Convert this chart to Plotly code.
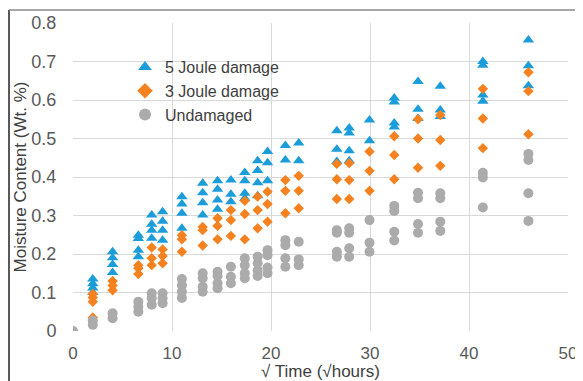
import plotly.graph_objects as go

# sqrt(time) sampling points
sqrt_time = [0, 2, 4, 6.6, 7.95, 9.05, 11, 13.1, 14.6, 15.95, 17.35, 18.65,
             19.65, 21.45, 22.8, 26.65, 27.9, 29.95, 32.45, 34.85, 37.1, 41.4, 46.0]

joule5 = [[0], [0.135, 0.123, 0.112, 0.10], [0.206, 0.19, 0.173, 0.152],
          [0.249, 0.24, 0.21, 0.193], [0.301, 0.277, 0.262, 0.241],
          [0.31, 0.285, 0.262, 0.236], [0.349, 0.33, 0.306, 0.267],
          [0.384, 0.359, 0.333, 0.301], [0.39, 0.368, 0.34, 0.316],
          [0.392, 0.355, 0.336], [0.412, 0.39, 0.358, 0.345],
          [0.442, 0.417, 0.385, 0.351], [0.466, 0.437, 0.39],
          [0.482, 0.444], [0.488, 0.442], [0.52, 0.472, 0.44],
          [0.527, 0.514, 0.468, 0.442], [0.548, 0.494],
          [0.605, 0.595, 0.54, 0.53], [0.648, 0.576, 0.552],
          [0.636, 0.574, 0.557], [0.70, 0.69, 0.613, 0.597],
          [0.756, 0.689, 0.637]]

joule3 = [[0], [0.096, 0.087, 0.076, 0.035], [0.13, 0.118, 0.106],
          [0.171, 0.163, 0.148], [0.217, 0.189, 0.171], [0.212, 0.195, 0.176],
          [0.249, 0.238, 0.206], [0.27, 0.262, 0.222], [0.293, 0.273, 0.238],
          [0.314, 0.288, 0.247], [0.338, 0.304, 0.238], [0.349, 0.314, 0.267],
          [0.362, 0.33, 0.284], [0.392, 0.364, 0.306], [0.403, 0.364, 0.319],
          [0.434, 0.394, 0.343], [0.436, 0.392, 0.343], [0.466, 0.416, 0.364],
          [0.506, 0.457, 0.394], [0.55, 0.5, 0.424], [0.561, 0.496, 0.429],
          [0.629, 0.552, 0.475], [0.672, 0.623, 0.511]]

undamaged = [[0], [0.027, 0.016], [0.046, 0.033], [0.076, 0.063, 0.05],
             [0.098, 0.085, 0.068], [0.098, 0.085, 0.072],
             [0.135, 0.119, 0.102, 0.086], [0.15, 0.137, 0.115, 0.102],
             [0.154, 0.143, 0.124, 0.111], [0.167, 0.141, 0.124],
             [0.189, 0.171, 0.15, 0.137], [0.193, 0.176, 0.158, 0.143],
             [0.21, 0.197, 0.165, 0.15], [0.236, 0.223, 0.189, 0.167],
             [0.232, 0.186, 0.171], [0.262, 0.255, 0.206, 0.193],
             [0.267, 0.255, 0.215, 0.193], [0.288, 0.229, 0.206],
             [0.325, 0.312, 0.258, 0.235], [0.359, 0.345, 0.278, 0.255],
             [0.358, 0.345, 0.284, 0.26], [0.411, 0.399, 0.321],
             [0.46, 0.444, 0.358, 0.286]]

series_names = ["5 Joule damage", "3 Joule damage", "Undamaged"]
x_ticks = [0, 10, 20, 30, 40, 50]
y_ticks = [0, 0.1, 0.2, 0.3, 0.4, 0.5, 0.6, 0.7, 0.8]
y_tick_text = ["0", "0.1", "0.2", "0.3", "0.4", "0.5", "0.6", "0.7", "0.8"]


def flatten(groups):
    xs, ys = [], []
    for t, vals in zip(sqrt_time, groups):
        for v in vals:
            xs.append(t)
            ys.append(v)
    return xs, ys


styles = [
    dict(symbol="triangle-up", color="#1B9DD9", size=10),
    dict(symbol="diamond", color="#F5811F", size=8),
    dict(symbol="circle", color="#ABABAB", size=10),
]

fig = go.Figure()
for name, data, st in zip(series_names, [joule5, joule3, undamaged], styles):
    xs, ys = flatten(data)
    fig.add_trace(go.Scatter(
        x=xs, y=ys, mode="markers", name=name,
        marker=dict(symbol=st["symbol"], color=st["color"], size=st["size"],
                    line=dict(width=0)),
    ))

font_family = "Liberation Sans, Arial, sans-serif"
# page body has an 8px margin, so the figure starts at (8, 8) in the window
W, H = 575, 373
L, R, T, B = 65, 15, 15, 50
pw, ph = W - L - R, H - T - B

fig.update_layout(
    width=W, height=H,
    margin=dict(l=L, r=R, t=T, b=B, autoexpand=False),
    paper_bgcolor="white", plot_bgcolor="white",
    font=dict(family=font_family, size=17, color="#595959"),
    showlegend=True,
    legend=dict(x=(117 - L) / pw, y=(ph + T - 42) / ph, xanchor="left", yanchor="top",
                bgcolor="rgba(0,0,0,0)", font=dict(size=16, color="#404040"),
                tracegroupgap=0, itemsizing="constant"),
    xaxis=dict(range=[0, 50], tickvals=x_ticks, showgrid=True, gridcolor="#D9D9D9",
               gridwidth=1, zeroline=False, showline=False, ticks="outside",
               ticklen=7, tickcolor="rgba(0,0,0,0)", automargin=False,
               tickfont=dict(size=17, color="#595959"),
               title=dict(text="√ Time (√hours)", font=dict(size=17, color="#404040"),
                          standoff=0)),
    yaxis=dict(range=[0, 0.8], tickvals=y_ticks, ticktext=y_tick_text,
               showgrid=True, gridcolor="#D9D9D9", gridwidth=1, zeroline=False,
               showline=False, ticks="outside", ticklen=12,
               tickcolor="rgba(0,0,0,0)", automargin=False,
               tickfont=dict(size=18, color="#595959"),
               title=dict(text="Moisture Content (Wt. %)",
                          font=dict(size=17, color="#404040"), standoff=0)),
    shapes=[
        dict(type="line", xref="paper", yref="paper",
             x0=(1 - L) / pw, x1=(1 - L) / pw, y0=(ph + T - 2) / ph, y1=-(B + 10) / ph,
             line=dict(color="#222222", width=1.5)),
        dict(type="line", xref="paper", yref="paper",
             x0=(1 - L) / pw, x1=(W + 5 - L) / pw, y0=(ph + T - 2) / ph, y1=(ph + T - 2) / ph,
             line=dict(color="#888888", width=1.5)),
    ],
)

fig.write_html("out.html")
